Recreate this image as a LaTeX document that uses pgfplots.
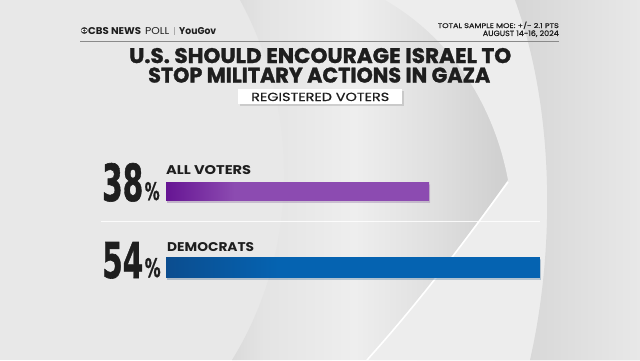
\documentclass[border=0pt]{standalone}
\usepackage{pgfplots}
\pgfplotsset{compat=1.18}
\usepackage{graphicx}
\usepackage{fontspec}
\usetikzlibrary{shadows}
\setmainfont{Poppins}
\newfontfamily\heavy{Poppins}[BoldFeatures={FakeBold=1.4}]
\newfontfamily\med{Poppins}[FakeBold=0.7]
\newfontfamily\numfont{DejaVu Sans}[BoldFeatures={FakeBold=1.2}]
\definecolor{tx}{HTML}{1E1E1E}
\definecolor{pA}{HTML}{661593}
\definecolor{pB}{HTML}{8C4BB1}
\definecolor{bA}{HTML}{0B4D8F}
\definecolor{bB}{HTML}{0563B1}
\definecolor{g1}{HTML}{DADADA}
\definecolor{g2}{HTML}{E4E4E4}
\definecolor{g3}{HTML}{EEEEEE}
\definecolor{g4}{HTML}{DFDFDF}
\definecolor{g5}{HTML}{D0D0D0}
\definecolor{bgbase}{HTML}{E8E8E8}
\definecolor{bgband}{HTML}{EDEDED}
\definecolor{rgA}{HTML}{D6D6D6}
\definecolor{rgB}{HTML}{E8E8E8}
\definecolor{logo}{HTML}{333333}
\definecolor{sepg}{HTML}{AAAAAA}
\definecolor{rule}{HTML}{8A8A8A}
\pgfdeclarehorizontalshading{purplebar}{100bp}{color(0bp)=(pA); color(25bp)=(pA); color(38bp)=(pB); color(100bp)=(pB)}
\pgfdeclarehorizontalshading{bluebar}{100bp}{color(0bp)=(bA); color(25bp)=(bA); color(40bp)=(bB); color(100bp)=(bB)}
\pgfdeclarehorizontalshading{cres}{100bp}{color(0bp)=(g1); color(25bp)=(g1); color(29bp)=(g2); color(40bp)=(g3); color(50bp)=(g4); color(58bp)=(g5); color(100bp)=(g5)}
\begin{document}
\begin{tikzpicture}[x=1pt,y=1pt]
\path[use as bounding box] (0,0) rectangle (640,360);
\clip (0,0) rectangle (640,360);
% background
\fill[bgbase] (0,0) rectangle (640,360);
\shade[shading=cres] (240,360) .. controls (300,250) and (300,110) .. (232,0) -- (640,0) -- (640,360) -- cycle;
\fill[bgband] (385,360) .. controls (455,320) and (495,250) .. (508,180) .. controls (480,140) and (430,70) .. (367,0) -- (640,0) -- (640,360) -- cycle;
\shade[left color=rgA, right color=rgB] (515,360) .. controls (555,250) and (555,110) .. (530,0) -- (640,0) -- (640,360) -- cycle;
\draw[white, line width=1.6pt] (508,178) .. controls (480,140) and (430,70) .. (367,0);
% header
\fill[logo] (84.3,329.5) circle (3.4);
\fill[white] (84.3,329.5) ellipse (3.0 and 1.6);
\fill[logo] (84.3,329.5) circle (1.3);
\node[anchor=base west, inner sep=0, text=tx] at (88,326) {\resizebox{53pt}{7pt}{\bfseries CBS NEWS}};
\node[anchor=base west, inner sep=0, text=tx] at (145,326) {\resizebox{24pt}{7pt}{POLL}};
\draw[sepg, line width=0.5pt] (174.3,325.5) -- (174.3,333.5);
\node[anchor=base west, inner sep=0, text=tx] at (179,326) {\resizebox{37pt}{7pt}{\bfseries YouGov}};
\node[anchor=base east, inner sep=0, text=tx] at (559,332) {\resizebox{121pt}{6.3pt}{\med TOTAL SAMPLE MOE: +/- 2.1 PTS}};
\node[anchor=base east, inner sep=0, text=tx] at (559,324) {\resizebox{76pt}{5.6pt}{\med AUGUST 14-16, 2024}};
\draw[rule, line width=0.8pt] (80,318.5) -- (559,318.5);
% title
\node[anchor=base west, inner sep=0, text=tx] at (129,297) {\resizebox{382pt}{15pt}{\heavy\bfseries U.S. SHOULD ENCOURAGE ISRAEL TO}};
\node[anchor=base west, inner sep=0, text=tx] at (148,277.5) {\resizebox{342pt}{15pt}{\heavy\bfseries STOP MILITARY ACTIONS IN GAZA}};
% subtitle box
\fill[black, opacity=0.12] (239.5,254.5) rectangle (403.5,269.5);
\fill[white] (238,256) rectangle (402,271);
\node[anchor=base west, inner sep=0, text=tx] at (251,259) {\resizebox{138pt}{8.3pt}{\med REGISTERED VOTERS}};
% separator
\draw[white, opacity=0.85, line width=0.9pt] (101,139) -- (540,139);
% labels
\node[anchor=base west, inner sep=0, text=tx] at (102,159) {\resizebox{41pt}{38pt}{\numfont\bfseries 38}};
\node[anchor=base west, inner sep=0, text=tx] at (144.5,160) {\resizebox{15pt}{18pt}{\numfont\bfseries \%}};
\node[anchor=base west, inner sep=0, text=tx] at (102,82) {\resizebox{41pt}{36pt}{\numfont\bfseries 54}};
\node[anchor=base west, inner sep=0, text=tx] at (144.5,83) {\resizebox{16pt}{19pt}{\numfont\bfseries \%}};
\node[anchor=base west, inner sep=0, text=tx] at (166,186) {\resizebox{85pt}{9pt}{\bfseries ALL VOTERS}};
\node[anchor=base west, inner sep=0, text=tx] at (167,109) {\resizebox{87pt}{9pt}{\bfseries DEMOCRATS}};
% bars
\begin{axis}[
  at={(166pt,93pt)}, anchor=south west,
  scale only axis, width=374pt, height=76pt,
  xmin=0, xmax=54, ymin=0, ymax=1,
  hide axis, clip=false,
]
\addplot[xbar, bar width=18pt, bar shift=0pt, draw=none, shade, shading=purplebar,
  drop shadow={shadow xshift=1pt, shadow yshift=-2.5pt, opacity=0.18}] coordinates {(38,1)};
\addplot[xbar, bar width=20pt, bar shift=0pt, draw=none, shade, shading=bluebar,
  drop shadow={shadow xshift=1pt, shadow yshift=-2.5pt, opacity=0.18}] coordinates {(54,0)};
\end{axis}
\end{tikzpicture}
\end{document}
